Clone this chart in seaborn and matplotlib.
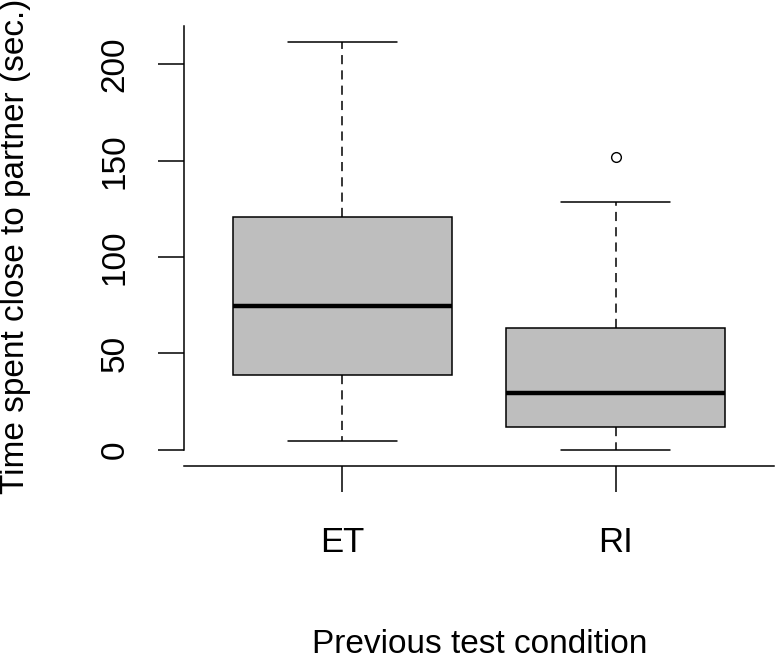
import matplotlib
matplotlib.use("Agg")
import matplotlib.pyplot as plt
import seaborn as sns

# five-number summaries
conditions = ["ET", "RI"]
whisker_low = [4.7, 0.0]
q1 = [38.7, 11.9]
medians = [74.8, 29.4]
q3 = [120.9, 63.4]
whisker_high = [211.5, 128.5]
outliers = [[], [152.0]]
y_ticks = [0, 50, 100, 150, 200]

sns.set_style("ticks")
plt.rcParams["font.family"] = ["Liberation Sans", "DejaVu Sans"]
plt.rcParams["text.color"] = "black"

fig = plt.figure(figsize=(7.75, 6.57), dpi=100)
ax = fig.add_axes([184 / 775, 1 - 466 / 657, 590 / 775, 440 / 657])

stats = []
for i, c in enumerate(conditions):
    stats.append(dict(label=c, whislo=whisker_low[i], q1=q1[i], med=medians[i],
                      q3=q3[i], whishi=whisker_high[i], fliers=outliers[i]))

pos = list(range(1, len(conditions) + 1))
ax.bxp(stats, positions=pos, widths=0.8, capwidths=0.4, patch_artist=True,
       boxprops=dict(facecolor="#bebebe", edgecolor="black", linewidth=1.1),
       medianprops=dict(color="black", linewidth=3.2, solid_capstyle="butt"),
       whiskerprops=dict(color="black", linewidth=1.1, linestyle=(0, (6, 4))),
       capprops=dict(color="black", linewidth=1.1),
       flierprops=dict(marker="o", markerfacecolor="none", markeredgecolor="black",
                       markersize=7, markeredgewidth=1.0))

# R-style 4% axis extension
lo = min(whisker_low)
hi = max(max(whisker_high), max(max(o) for o in outliers if o))
pad = 0.04 * (hi - lo)
ax.set_ylim(lo - pad, hi + pad)
ax.set_xlim(0.5 - 0.08, len(conditions) + 0.5 + 0.08)

ax.set_yticks(y_ticks)
ax.set_xticks(pos)
ax.set_xticklabels(conditions)

sns.despine(ax=ax)
ax.spines["left"].set_bounds(0, hi + pad)
for s in ["left", "bottom"]:
    ax.spines[s].set_linewidth(1.1)
    ax.spines[s].set_color("black")

ax.tick_params(axis="both", length=18.5, width=1.1, color="black",
               labelsize=24, labelcolor="black", direction="out")
ax.tick_params(axis="x", labelsize=25, pad=25)
ax.tick_params(axis="y", labelrotation=90, pad=20)
for lab in ax.get_yticklabels():
    lab.set_va("center")

fig.text(16 / 775, 1 - 246 / 657, "Time spent close to partner (sec.)",
         rotation=90, ha="center", va="center", fontsize=24, color="black")
fig.text(480 / 775, 1 - 653 / 657, "Previous test condition",
         ha="center", va="baseline", fontsize=24, color="black")

fig.savefig("out.png", dpi=100, facecolor="white")
